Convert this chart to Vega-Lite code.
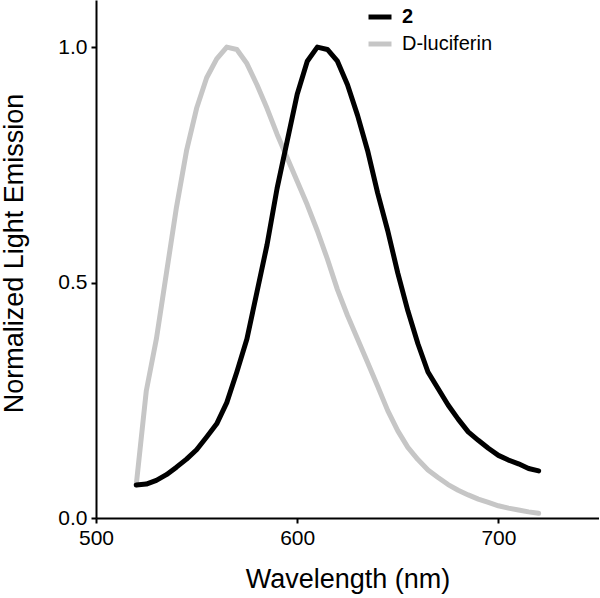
{
  "$schema": "https://vega.github.io/schema/vega-lite/v6.json",
  "width": 503,
  "height": 518,
  "autosize": "none",
  "padding": {"left": 96, "top": 0, "right": 0, "bottom": 80},
  "background": "white",
  "config": {
    "view": {"stroke": null},
    "font": "Liberation Sans",
    "axis": {
      "grid": false,
      "domainColor": "black",
      "domainWidth": 2,
      "tickColor": "black",
      "tickWidth": 2,
      "tickSize": 5,
      "labelColor": "black",
      "labelFont": "Liberation Sans",
      "labelFontSize": 21,
      "labelFlush": false,
      "labelOverlap": false,
      "titleFont": "Liberation Sans",
      "titleFontSize": 27,
      "titleFontWeight": "normal",
      "titleColor": "black"
    }
  },
  "data": {
    "values": [
      {"wl": 520, "v": 0.07, "s": "2"},
      {"wl": 525, "v": 0.072, "s": "2"},
      {"wl": 530, "v": 0.08, "s": "2"},
      {"wl": 535, "v": 0.092, "s": "2"},
      {"wl": 540, "v": 0.108, "s": "2"},
      {"wl": 545, "v": 0.125, "s": "2"},
      {"wl": 550, "v": 0.145, "s": "2"},
      {"wl": 555, "v": 0.172, "s": "2"},
      {"wl": 560, "v": 0.2, "s": "2"},
      {"wl": 565, "v": 0.245, "s": "2"},
      {"wl": 570, "v": 0.31, "s": "2"},
      {"wl": 575, "v": 0.38, "s": "2"},
      {"wl": 580, "v": 0.48, "s": "2"},
      {"wl": 585, "v": 0.58, "s": "2"},
      {"wl": 590, "v": 0.7, "s": "2"},
      {"wl": 595, "v": 0.8, "s": "2"},
      {"wl": 600, "v": 0.9, "s": "2"},
      {"wl": 605, "v": 0.97, "s": "2"},
      {"wl": 610, "v": 1.0, "s": "2"},
      {"wl": 615, "v": 0.995, "s": "2"},
      {"wl": 620, "v": 0.97, "s": "2"},
      {"wl": 625, "v": 0.92, "s": "2"},
      {"wl": 630, "v": 0.855, "s": "2"},
      {"wl": 635, "v": 0.78, "s": "2"},
      {"wl": 640, "v": 0.69, "s": "2"},
      {"wl": 645, "v": 0.61, "s": "2"},
      {"wl": 650, "v": 0.52, "s": "2"},
      {"wl": 655, "v": 0.44, "s": "2"},
      {"wl": 660, "v": 0.37, "s": "2"},
      {"wl": 665, "v": 0.31, "s": "2"},
      {"wl": 670, "v": 0.275, "s": "2"},
      {"wl": 675, "v": 0.24, "s": "2"},
      {"wl": 680, "v": 0.21, "s": "2"},
      {"wl": 685, "v": 0.183, "s": "2"},
      {"wl": 690, "v": 0.165, "s": "2"},
      {"wl": 695, "v": 0.148, "s": "2"},
      {"wl": 700, "v": 0.133, "s": "2"},
      {"wl": 705, "v": 0.123, "s": "2"},
      {"wl": 710, "v": 0.115, "s": "2"},
      {"wl": 715, "v": 0.105, "s": "2"},
      {"wl": 720, "v": 0.1, "s": "2"},
      {"wl": 520, "v": 0.07, "s": "D-luciferin"},
      {"wl": 525, "v": 0.27, "s": "D-luciferin"},
      {"wl": 530, "v": 0.38, "s": "D-luciferin"},
      {"wl": 535, "v": 0.52, "s": "D-luciferin"},
      {"wl": 540, "v": 0.66, "s": "D-luciferin"},
      {"wl": 545, "v": 0.78, "s": "D-luciferin"},
      {"wl": 550, "v": 0.87, "s": "D-luciferin"},
      {"wl": 555, "v": 0.935, "s": "D-luciferin"},
      {"wl": 560, "v": 0.975, "s": "D-luciferin"},
      {"wl": 565, "v": 1.0, "s": "D-luciferin"},
      {"wl": 570, "v": 0.995, "s": "D-luciferin"},
      {"wl": 575, "v": 0.965, "s": "D-luciferin"},
      {"wl": 580, "v": 0.92, "s": "D-luciferin"},
      {"wl": 585, "v": 0.87, "s": "D-luciferin"},
      {"wl": 590, "v": 0.815, "s": "D-luciferin"},
      {"wl": 595, "v": 0.765, "s": "D-luciferin"},
      {"wl": 600, "v": 0.715, "s": "D-luciferin"},
      {"wl": 605, "v": 0.665, "s": "D-luciferin"},
      {"wl": 610, "v": 0.61, "s": "D-luciferin"},
      {"wl": 615, "v": 0.55, "s": "D-luciferin"},
      {"wl": 620, "v": 0.485, "s": "D-luciferin"},
      {"wl": 625, "v": 0.43, "s": "D-luciferin"},
      {"wl": 630, "v": 0.38, "s": "D-luciferin"},
      {"wl": 635, "v": 0.33, "s": "D-luciferin"},
      {"wl": 640, "v": 0.28, "s": "D-luciferin"},
      {"wl": 645, "v": 0.228, "s": "D-luciferin"},
      {"wl": 650, "v": 0.185, "s": "D-luciferin"},
      {"wl": 655, "v": 0.15, "s": "D-luciferin"},
      {"wl": 660, "v": 0.124, "s": "D-luciferin"},
      {"wl": 665, "v": 0.102, "s": "D-luciferin"},
      {"wl": 670, "v": 0.086, "s": "D-luciferin"},
      {"wl": 675, "v": 0.071, "s": "D-luciferin"},
      {"wl": 680, "v": 0.059, "s": "D-luciferin"},
      {"wl": 685, "v": 0.049, "s": "D-luciferin"},
      {"wl": 690, "v": 0.04, "s": "D-luciferin"},
      {"wl": 695, "v": 0.033, "s": "D-luciferin"},
      {"wl": 700, "v": 0.026, "s": "D-luciferin"},
      {"wl": 705, "v": 0.021, "s": "D-luciferin"},
      {"wl": 710, "v": 0.017, "s": "D-luciferin"},
      {"wl": 715, "v": 0.013, "s": "D-luciferin"},
      {"wl": 720, "v": 0.01, "s": "D-luciferin"}
    ]
  },
  "encoding": {
    "x": {
      "field": "wl", "type": "quantitative",
      "scale": {"domain": [500, 750], "nice": false, "zero": false},
      "axis": {"values": [500, 600, 700], "title": "Wavelength (nm)", "labelPadding": 4, "titlePadding": 18}
    },
    "y": {
      "field": "v", "type": "quantitative",
      "scale": {"domain": [0, 1.1], "nice": false},
      "axis": {"values": [0, 0.5, 1.0], "format": ".1f", "title": "Normalized Light Emission", "labelPadding": 4, "titlePadding": 29, "titleFontSize": 27, "titleY": 253}
    },
    "color": {
      "field": "s", "type": "nominal",
      "scale": {"domain": ["2", "D-luciferin"], "range": ["#000000", "#c6c6c6"]},
      "legend": {
        "title": null,
        "orient": "none",
        "legendX": 270,
        "legendY": 3,
        "padding": 0,
        "symbolType": "stroke",
        "symbolSize": 529,
        "symbolStrokeWidth": 5,
        "labelFontSize": 20,
        "labelFont": "Liberation Sans",
        "labelColor": "black",
        "labelOffset": 8,
        "rowPadding": 3,
        "encode": {
          "labels": {"update": {"fontWeight": {"signal": "datum.label === '2' ? 'bold' : 'normal'"}}}
        }
      }
    }
  },
  "layer": [
    {
      "transform": [{"filter": "datum.s === 'D-luciferin'"}],
      "mark": {"type": "line", "strokeWidth": 5, "strokeJoin": "round", "strokeCap": "round"}
    },
    {
      "transform": [{"filter": "datum.s === '2'"}],
      "mark": {"type": "line", "strokeWidth": 5, "strokeJoin": "round", "strokeCap": "round"}
    }
  ]
}
